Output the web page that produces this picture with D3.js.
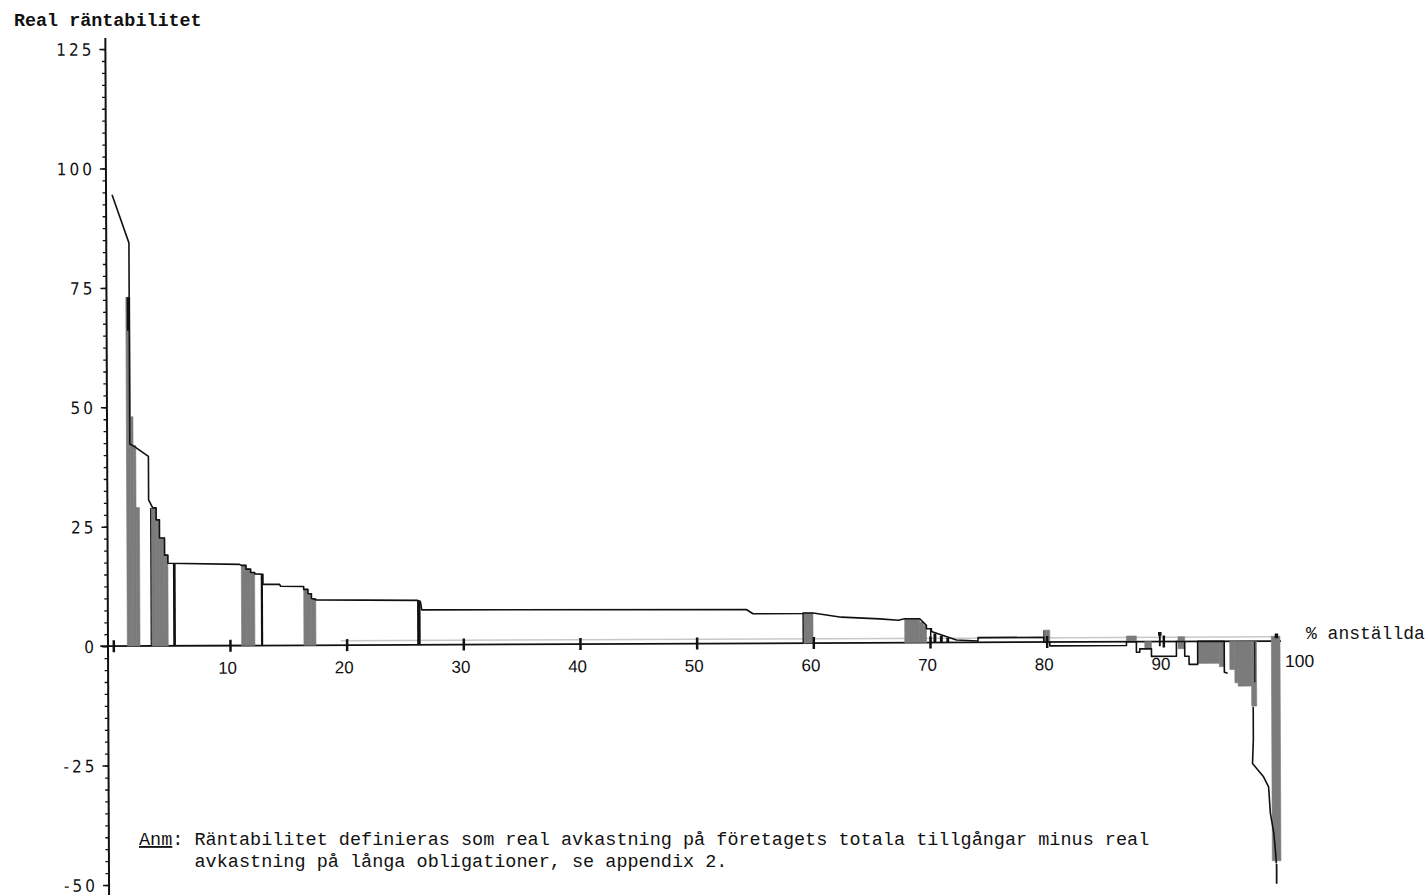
<!DOCTYPE html>
<html><head><meta charset="utf-8">
<script src="https://cdn.jsdelivr.net/npm/d3@7"></script>
<style>body{margin:0;background:#fff}svg{display:block}</style>
</head><body>
<svg id="c" width="1428" height="895"></svg>
<script>
// ---------------- data ----------------
const yMajorTicks = [125, 100, 75, 50, 25, 0, -25, -50];
const yMinorTicks = d3.range(-50, 126, 2.5);
const xTickValues = [0, 10, 20, 30, 40, 50, 60, 70, 80, 90];
const xTickLabels = ["", "10", "20", "30", "40", "50", "60", "70", "80", "90"];
const xEndLabel = "100";

// envelope line: cumulative % of employees, real profitability
const outlinePct = [0.06,1.49,1.49,1.86,3.08,3.08,3.43,3.72,3.72,4.0,4.0,4.43,4.43,4.71,4.71,10.86,11.0,11.4,11.4,11.8,11.8,12.14,12.14,12.85,12.85,14.28,14.35,16.34,16.34,16.7,16.7,17.0,17.0,17.37,17.37,26.1,26.35,26.45,54.27,54.84,59.13,59.13,59.98,62.42,65.7,67.3,67.84,69.13,69.7,69.7,70.13,70.13,72.27,74.12,74.12,79.75,79.75,80.27,80.27,86.84,86.84,87.69,87.69,87.98,87.98,88.98,88.98,91.12,91.12,91.83,91.83,92.2,92.2,92.94,92.94,95.22,95.22,95.5,NaN,97.68,97.68,97.6,98.54,98.97,99.11,99.40,99.55,99.6];
const outlineValue = [94.5,84.4,42.3,41.8,39.7,30.6,28.9,28.9,26.4,26.4,22.6,22.6,19.0,19.0,17.3,17.0,16.8,16.8,16.0,16.0,15.3,15.3,15.0,14.9,12.8,12.8,12.4,12.3,11.7,11.7,10.8,10.8,9.8,9.6,9.5,9.3,8.9,7.3,7.1,6.2,6.2,6.3,6.3,5.4,5.0,4.7,5.0,5.0,3.6,2.9,2.9,2.3,0.5,0.3,1.0,1.0,0,0,-0.8,-0.8,0,0,-2.2,-2.2,-1.5,-1.5,-3.1,-3.1,0,0,-3.1,-3.1,-4.8,-4.8,0,0,-6.5,-6.7,NaN,-13.8,-20.6,-25.6,-28.4,-30.5,-36.0,-40.2,-44.4,-46.5];

// shaded units
const grayStart = [1.20,1.55,1.77,2.00, 3.30,3.72,4.00,4.43, 11.0,11.4,11.8, 16.34,16.7,17.0, 59.13, 67.84,69.13,69.45, 79.8, 86.84, 88.41, 91.26,91.26, 92.98,94.8, 95.69,96.12,96.4,97.55, 99.26,99.26];
const grayEnd   = [1.55,1.77,2.00,2.29, 3.72,4.00,4.43,4.71, 11.4,11.8,12.14, 16.7,17.0,17.37, 59.98, 69.13,69.45,69.70, 80.27, 87.69, 88.98, 91.83,91.83, 94.8,95.2, 96.12,96.4,97.55,97.98, 100.0,100.0];
const grayValue = [73,48,42,29, 28.9,26.4,22.6,19.0, 16.8,16.0,15.3, 11.7,10.8,9.8, 6.3, 5.0,4.3,3.6, 2.5, 1.2, -1.4, 1.0,-1.5, -4.6,-5.3, -5.9,-8.7,-9.4,-13.6, 1.0,-46];

// dark (black) units
const blackStart = [1.28,3.20,5.14,12.66,26.05,59.08,70.0,70.3,70.85,71.4,79.72,89.62,89.55,95.2,97.78,99.55,99.55];
const blackEnd   = [1.52,3.30,5.37,12.85,26.35,59.18,70.13,70.55,71.1,71.65,79.8,89.78,89.85,95.28,97.88,99.85,99.7];
const blackLow   = [66,0,0,0,0,0,0,0,0,0,0,-1.0,1.2,-6.5,-8.6,0.6,-50.8];
const blackHigh  = [73,28.9,17.3,14.9,9.3,6.3,2.9,1.9,1.4,1.0,2.5,1.4,2.0,0,0,1.6,-46.6];

// ---------------- drawing ----------------
const svg = d3.select("#c");
const x = d3.scaleLinear().domain([0, 100]).range([113.3, 1280]);
const y = d3.scaleLinear().domain([-50, 125]).range([885, 49]);
const axisX = 108;

const plot = svg.append("g").attr("transform", `rotate(-0.25 ${x(0)} ${y(0)})`);

// faint shadow line above the baseline
plot.append("line")
  .attr("x1", x(19.5)).attr("x2", x(100)).attr("y1", y(0.9)).attr("y2", y(0.9))
  .attr("stroke", "#c8c8c8").attr("stroke-width", 1.5);

// baseline
plot.append("line")
  .attr("x1", x(0) - 13).attr("x2", x(100) + 1).attr("y1", y(0)).attr("y2", y(0))
  .attr("stroke", "#111").attr("stroke-width", 1.8);

// gray units
const grayData = grayStart.map((s, i) => ({s, e: grayEnd[i], v: grayValue[i]}));
plot.append("g").selectAll("rect").data(grayData).join("rect")
  .attr("x", d => x(d.s)).attr("width", d => x(d.e) - x(d.s))
  .attr("y", d => y(Math.max(d.v, 0))).attr("height", d => Math.abs(y(d.v) - y(0)))
  .attr("fill", "#7b7b7b").attr("stroke", "#7b7b7b").attr("stroke-width", 0.6);

// black units
const blackData = blackStart.map((s, i) => ({s, e: blackEnd[i], lo: blackLow[i], hi: blackHigh[i]}));
plot.append("g").selectAll("rect").data(blackData).join("rect")
  .attr("x", d => x(d.s)).attr("width", d => x(d.e) - x(d.s))
  .attr("y", d => y(d.hi)).attr("height", d => y(d.lo) - y(d.hi))
  .attr("fill", "#111");

// envelope line
const outlineData = outlinePct.map((p, i) => ({p, v: outlineValue[i]}));
plot.append("path").datum(outlineData)
  .attr("d", d3.line().defined(d => !isNaN(d.p) && !isNaN(d.v)).x(d => x(d.p)).y(d => y(d.v)))
  .attr("fill", "none").attr("stroke", "#111").attr("stroke-width", 1.6)
  .attr("stroke-linejoin", "round");

// y axis
plot.append("line").attr("x1", axisX).attr("x2", axisX)
  .attr("y1", y(127.3)).attr("y2", y(-53)).attr("stroke", "#111").attr("stroke-width", 2);
const yMinor = plot.append("g").attr("transform", `translate(${axisX},0)`)
  .call(d3.axisLeft(y).tickValues(yMinorTicks).tickSize(3.5).tickFormat(""));
yMinor.select(".domain").remove();
yMinor.selectAll("line").attr("stroke", "#111").attr("stroke-width", 1.3);
const yMajor = plot.append("g").attr("transform", `translate(${axisX},0)`)
  .call(d3.axisLeft(y).tickValues(yMajorTicks).tickSize(6).tickPadding(5).tickFormat(d => String(d)));
yMajor.select(".domain").remove();
yMajor.selectAll("line").attr("stroke", "#111").attr("stroke-width", 1.5);
yMajor.selectAll("text")
  .attr("dy", "0.36em")
  .attr("fill", "#111")
  .style("font-family", "'Liberation Sans Narrow','Arial Narrow','DejaVu Sans Condensed',sans-serif")
  .style("font-stretch", "condensed")
  .style("font-size", "17px")
  .style("letter-spacing", "3px");

// x axis ticks + labels
const xAx = plot.append("g").attr("transform", `translate(0,${y(0)})`)
  .call(d3.axisBottom(x).tickValues(xTickValues).tickSize(6).tickPadding(10)
    .tickFormat((d, i) => xTickLabels[i]));
xAx.select(".domain").remove();
xAx.selectAll("line").attr("y1", -6).attr("stroke", "#111").attr("stroke-width", 2.5);
xAx.selectAll("text").attr("x", -3).attr("dy", "0.71em").attr("fill", "#111")
  .style("font-family", "'Liberation Sans',Arial,sans-serif").style("font-size", "17px");

plot.append("text").attr("x", x(100) + 5).attr("y", y(0) + 26)
  .attr("fill", "#111").style("font-family", "'Liberation Sans',Arial,sans-serif")
  .style("font-size", "17.5px").text(xEndLabel);

// texts (mono)
const mono = "'Liberation Mono','Courier New',monospace";
svg.append("text").attr("x", 14).attr("y", 26).attr("fill", "#111")
  .style("font-family", mono).style("font-weight", "bold").style("font-size", "18.4px")
  .text("Real räntabilitet");

svg.append("text").attr("x", 1306).attr("y", 639).attr("fill", "#111")
  .style("font-family", mono).style("font-size", "18px").text("% anställda");

const note1 = svg.append("text").attr("x", 139).attr("y", 845).attr("fill", "#111")
  .style("font-family", mono).style("font-size", "18.5px");
const anm = note1.append("tspan").style("text-decoration", "underline").text("Anm");
note1.append("tspan").text(": Räntabilitet definieras som real avkastning på företagets totala tillgångar minus real");
const charW = anm.node().getComputedTextLength() / 3;
svg.append("text").attr("x", 139 + 5 * charW).attr("y", 867).attr("fill", "#111")
  .style("font-family", mono).style("font-size", "18.5px")
  .text("avkastning på långa obligationer, se appendix 2.");
</script>
</body></html>
